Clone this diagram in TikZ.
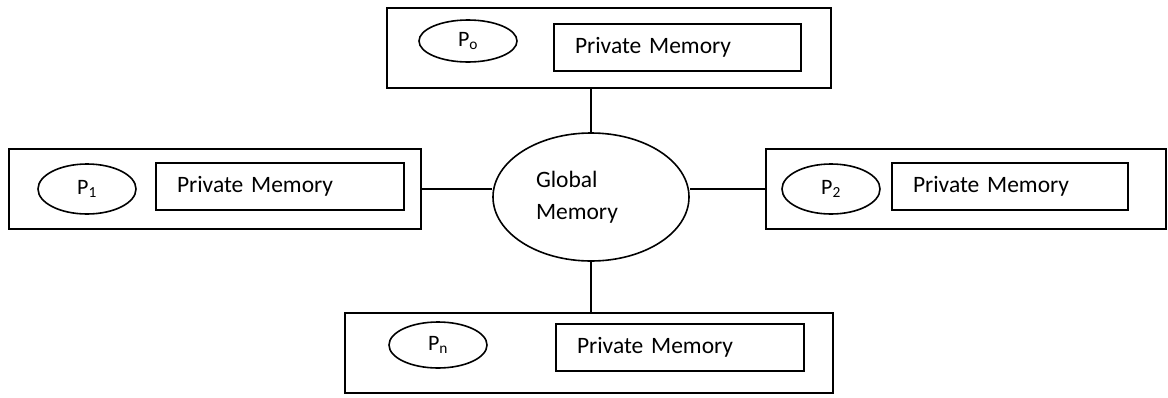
\documentclass[tikz,border=0pt]{standalone}
\usepackage{fontspec}
\setmainfont{Carlito}
\usetikzlibrary{shapes.geometric}

\begin{document}
\begin{tikzpicture}[x=1pt,y=-1pt,line width=1.6pt,
    unit/.style={draw,rectangle,minimum height=80pt,inner sep=0pt},
    proc/.style={draw,ellipse,minimum width=98pt,inner sep=0pt,font=\fontsize{22}{26}\selectfont},
    privmem/.style={draw,rectangle,minimum height=47pt,inner ysep=0pt,inner xsep=21pt,align=left,font=\fontsize{23.5}{28}\selectfont}]
    \useasboundingbox (0,0) rectangle (1168,397);
    % shared memory in the middle
    \node[draw,ellipse,minimum width=196pt,minimum height=128pt,inner sep=0pt,text width=110pt,align=left,font=\fontsize{23.5}{32}\selectfont] (glob) at (591,197) {Global\\Memory};
    % the four processors
    \node[unit,minimum width=444pt] (utop) at (609,48) {};
    \node[proc,minimum height=42pt] (p0) at (468,41) {P\textsubscript{o}};
    \node[privmem,text width=205pt] (m0) at (677.5,47.5) {Private Memory};
    \node[unit,minimum width=412pt] (uleft) at (215,189) {};
    \node[proc,minimum height=50pt] (p1) at (87,189) {P\textsubscript{1}};
    \node[privmem,text width=206pt] (m1) at (280,186.5) {Private Memory};
    \node[unit,minimum width=400pt] (uright) at (966,189) {};
    \node[proc,minimum height=50pt] (p2) at (831,189) {P\textsubscript{2}};
    \node[privmem,text width=194pt] (m2) at (1010,186.5) {Private Memory};
    \node[unit,minimum width=488pt] (ubot) at (589,353) {};
    \node[proc,minimum height=46pt] (pn) at (438,345) {P\textsubscript{n}};
    \node[privmem,text width=206pt] (mn) at (680,347.5) {Private Memory};
    % links to global memory
    \draw (glob.north) -- (glob.north |- utop.south);
    \draw (uleft.east) -- (uleft.east -| glob.west);
    \draw (glob.east |- uright.west) -- (uright.west);
    \draw (glob.south) -- (glob.south |- ubot.north);
\end{tikzpicture}
\end{document}
